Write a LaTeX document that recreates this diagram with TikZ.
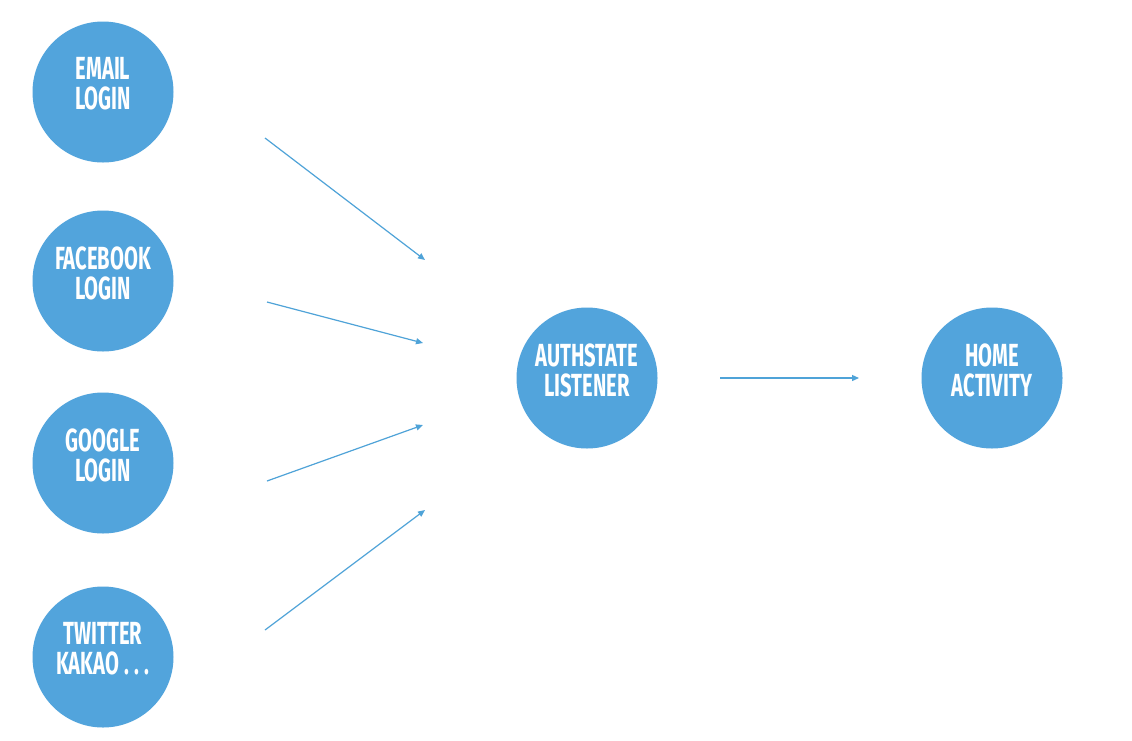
\documentclass[tikz,border=0pt]{standalone}
\usepackage{fontspec}
\newfontfamily\labelfont[FakeStretch=0.63]{Fira Sans Bold}
\usetikzlibrary{arrows.meta}
\definecolor{dotblue}{HTML}{52A4DC}
\definecolor{arrowblue}{HTML}{4FA3D8}
\tikzset{
  bubble/.style={circle, fill=dotblue, minimum size=141pt, inner sep=0pt},
  caption/.style={text=white, align=center, inner sep=0pt, yshift=8pt,
    font=\labelfont\fontsize{32}{30}\selectfont},
  link/.style={draw=arrowblue, line width=1.2pt, -{Triangle[length=7pt,width=6pt]}}
}
\begin{document}
\begin{tikzpicture}[x=1pt,y=-1pt]
\useasboundingbox[fill=white] (0,0) rectangle (1132,740);
\node[bubble, label={[caption]center:{EMAIL\\LOGIN}}] (email) at (103,92) {};
\node[bubble, label={[caption]center:{FACEBOOK\\LOGIN}}] (facebook) at (103,281) {};
\node[bubble, label={[caption]center:{GOOGLE\\LOGIN}}] (google) at (103,463) {};
\node[bubble, label={[caption]center:{TWITTER\\KAKAO\,.\,.\,.}}] (twitter) at (103,657) {};
\node[bubble, label={[caption]center:{AUTHSTATE\\LISTENER}}] (auth) at (587,378) {};
\node[bubble, label={[caption]center:{HOME\\ACTIVITY}}] (home) at (992,378) {};
\coordinate (e1) at (265,138); \coordinate (e2) at (425,260);
\coordinate (f1) at (267,302); \coordinate (f2) at (423,343);
\coordinate (g1) at (267,481); \coordinate (g2) at (423,425);
\coordinate (t1) at (265,630); \coordinate (t2) at (425,510);
\coordinate (a1) at (720,378); \coordinate (a2) at (859,378);
\draw[link] (e1) -- (e2);
\draw[link] (f1) -- (f2);
\draw[link] (g1) -- (g2);
\draw[link] (t1) -- (t2);
\draw[link] (a1) -- (a2);
\end{tikzpicture}
\end{document}
